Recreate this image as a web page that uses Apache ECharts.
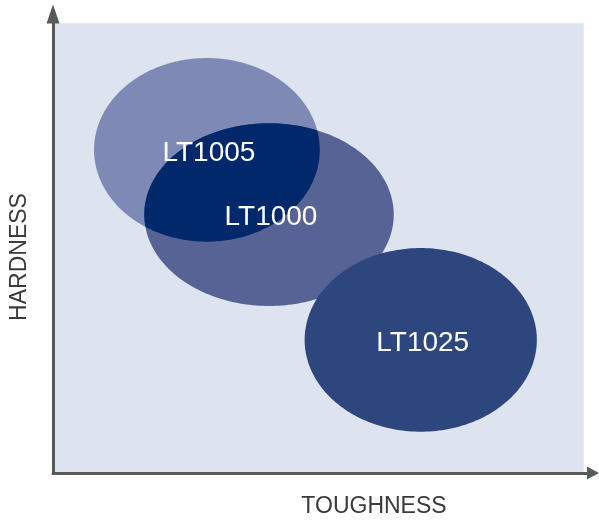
<!DOCTYPE html>
<html>
<head>
<meta charset="utf-8">
<script src="https://cdn.jsdelivr.net/npm/echarts@6/dist/echarts.min.js"></script>
<style>
  html, body { margin: 0; padding: 0; background: #fff; }
  #chart { width: 599px; height: 526px; }
</style>
</head>
<body>
<div id="chart"></div>
<script>
// grades: toughness (x) / hardness (y) ranges, axis 0..100
const grades = ["LT1005", "LT1000", "LT1025"];
const centerX = [28.5, 40.0, 68.1];
const centerY = [70.4, 56.3, 29.0];
const spreadX = [20.9, 23.1, 21.5];
const spreadY = [20.0, 19.9, 20.0];
// shaded plot area extent
const plotMaxX = 98.3;
const plotMaxY = 98.0;

const fills = ["#7f89b5", "#566394", "#2d467e"];
const overlapFill = "#01286a";

const chart = echarts.init(document.getElementById("chart"));

// ellipse outline in pixels
function ellipsePoints(api, i, n) {
  const c = api.coord([centerX[i], centerY[i]]);
  const s = api.size([spreadX[i], spreadY[i]]);
  const pts = [];
  for (let k = 0; k < n; k++) {
    const a = (k / n) * Math.PI * 2;
    pts.push([c[0] + s[0] * Math.cos(a), c[1] + s[1] * Math.sin(a)]);
  }
  return { pts: pts, c: c, s: s };
}

function inside(p, e) {
  const dx = (p[0] - e.c[0]) / e.s[0];
  const dy = (p[1] - e.c[1]) / e.s[1];
  return dx * dx + dy * dy <= 1;
}

const axisLine = (size) => ({
  show: true,
  symbol: ["none", "triangle"],
  symbolSize: size,
  lineStyle: { color: "#58595b", width: 3 }
});

chart.setOption({
  animation: false,
  grid: { left: 53, right: 6, top: 14, bottom: 53 },
  xAxis: {
    type: "value", min: 0, max: 100, z: 5,
    name: "TOUGHNESS",
    nameLocation: "middle",
    nameGap: 22,
    nameTextStyle: {
      color: "#3a3a3a", fontSize: 23, fontFamily: "Liberation Sans",
      padding: [0, 0, 0, 102]
    },
    axisLine: axisLine([13, 12]),
    axisTick: { show: false },
    axisLabel: { show: false },
    splitLine: { show: false }
  },
  yAxis: {
    type: "value", min: 0, max: 100, z: 5,
    name: "HARDNESS",
    nameLocation: "middle",
    nameGap: 22,
    nameTextStyle: {
      color: "#3a3a3a", fontSize: 23, fontFamily: "Liberation Sans",
      padding: [0, 27, 0, 0]
    },
    axisLine: axisLine([13, 19]),
    axisTick: { show: false },
    axisLabel: { show: false },
    splitLine: { show: false }
  },
  series: [
    {
      // plot background
      type: "custom",
      silent: true,
      data: [[0, 0, plotMaxX, plotMaxY]],
      renderItem: (params, api) => {
        const p0 = api.coord([api.value(0), api.value(3)]);
        const p1 = api.coord([api.value(2), api.value(1)]);
        return {
          type: "rect",
          shape: { x: p0[0] + 1, y: p0[1], width: p1[0] - p0[0] - 1, height: p1[1] - p0[1] - 1 },
          style: { fill: "#dde3ef" }
        };
      }
    },
    {
      // grade ellipses
      type: "custom",
      data: grades.map((g, i) => [centerX[i], centerY[i], spreadX[i], spreadY[i]]),
      renderItem: (params, api) => {
        const e = ellipsePoints(api, params.dataIndex, 240);
        return {
          type: "polygon",
          shape: { points: e.pts },
          style: { fill: fills[params.dataIndex] }
        };
      }
    },
    {
      // LT1005 / LT1000 overlap
      type: "custom",
      data: [[0]],
      renderItem: (params, api) => {
        const a = ellipsePoints(api, 0, 360);
        const b = ellipsePoints(api, 1, 360);
        let pts = a.pts.filter((p) => inside(p, b)).concat(b.pts.filter((p) => inside(p, a)));
        if (!pts.length) return null;
        const mx = pts.reduce((s, p) => s + p[0], 0) / pts.length;
        const my = pts.reduce((s, p) => s + p[1], 0) / pts.length;
        pts.sort((p, q) => Math.atan2(p[1] - my, p[0] - mx) - Math.atan2(q[1] - my, q[0] - mx));
        return { type: "polygon", shape: { points: pts }, style: { fill: overlapFill } };
      }
    },
    {
      // grade names
      type: "scatter",
      symbolSize: 0,
      itemStyle: { opacity: 1 },
      data: grades.map((g, i) => ({ name: g, value: [centerX[i], centerY[i]] })),
      label: {
        show: true,
        position: "inside",
        offset: [2, 3],
        formatter: "{b}",
        color: "#ffffff",
        fontSize: 28,
        fontFamily: "Liberation Sans"
      }
    }
  ]
});
</script>
</body>
</html>
